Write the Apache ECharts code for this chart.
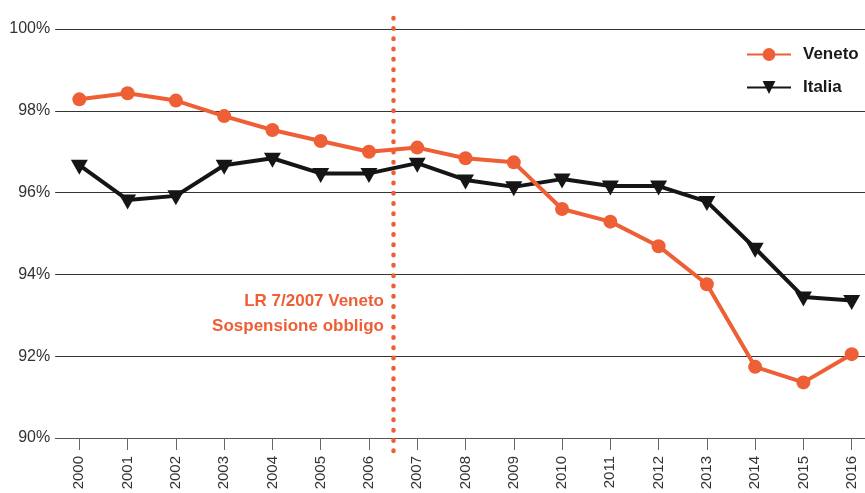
<!DOCTYPE html>
<html>
<head>
<meta charset="utf-8">
<script src="https://cdn.jsdelivr.net/npm/echarts@6/dist/echarts.min.js"></script>
<style>html,body{margin:0;padding:0;background:#fff}#c{width:865px;height:493px}</style>
</head>
<body>
<div id="c"></div>
<script>
const years = ['2000','2001','2002','2003','2004','2005','2006','2007','2008','2009','2010','2011','2012','2013','2014','2015','2016'];
const veneto = [98.28, 98.43, 98.25, 97.87, 97.53, 97.26, 97.0, 97.1, 96.84, 96.74, 95.6, 95.29, 94.69, 93.76, 91.74, 91.36, 92.05];
const italia = [96.67, 95.82, 95.92, 96.67, 96.84, 96.47, 96.47, 96.72, 96.31, 96.14, 96.33, 96.16, 96.16, 95.78, 94.64, 93.45, 93.36];
const yTicks = [90, 92, 94, 96, 98, 100];
const lawPosition = 6.5; // year index between 2006 and 2007
const annotation = ['LR 7/2007 Veneto', 'Sospensione obbligo'];

const ORANGE = '#EE5F35';
const BLACK = '#151515';
const FONT = 'Liberation Sans, Arial, sans-serif';

const idx = years.map((_, i) => i);
const X_MIN = -0.5, X_MAX = 16.276; // right part of the last band is cut by the image edge

const chart = echarts.init(document.getElementById('c'), null, {renderer: 'canvas'});
chart.setOption({
  animation: false,
  backgroundColor: '#fff',
  grid: [
    {left: 55.2, right: 0, top: 29, bottom: 55},
    {left: 55.2, right: 0, top: 12, bottom: 42}
  ],
  legend: {
    data: ['Veneto', 'Italia'],
    orient: 'vertical',
    left: 746,
    top: 46,
    padding: 0,
    itemWidth: 44,
    itemHeight: 16,
    itemGap: 16,
    textStyle: {fontFamily: FONT, fontSize: 17, fontWeight: 'bold', color: '#1a1a1a', padding: [0, 0, 0, 7]}
  },
  xAxis: [
    {
      type: 'value', min: X_MIN, max: X_MAX, gridIndex: 0,
      axisLine: {show: true, lineStyle: {color: '#555', width: 1}},
      axisTick: {show: true, customValues: idx, length: 12, lineStyle: {color: '#666', width: 1}},
      axisLabel: {customValues: idx, formatter: (v) => years[Math.round(v)], rotate: 90, margin: 18, fontFamily: FONT, fontSize: 15, color: '#333'},
      splitLine: {show: false}
    },
    {type: 'value', min: X_MIN, max: X_MAX, gridIndex: 1, show: false}
  ],
  yAxis: [
    {
      type: 'value', min: yTicks[0], max: yTicks[yTicks.length - 1], interval: 2, gridIndex: 0,
      axisLine: {show: false}, axisTick: {show: false},
      axisLabel: {formatter: '{value}%', margin: 5, fontFamily: FONT, fontSize: 16, color: '#333', padding: [0, 0, 8, 0]},
      splitLine: {show: true, lineStyle: {color: '#333', width: 1}}
    },
    {type: 'value', min: 0, max: 1, gridIndex: 1, show: false}
  ],
  series: [
    {
      name: 'Veneto', type: 'line', data: veneto.map((v, i) => [i, v]), xAxisIndex: 0, yAxisIndex: 0,
      symbol: 'circle', symbolSize: 14,
      lineStyle: {color: ORANGE, width: 4},
      itemStyle: {color: ORANGE},
      z: 3
    },
    {
      name: 'Italia', type: 'line', data: italia.map((v, i) => [i, v]), xAxisIndex: 0, yAxisIndex: 0,
      symbol: 'triangle', symbolRotate: 180, symbolSize: [17, 15], symbolOffset: [0, 2],
      lineStyle: {color: BLACK, width: 4},
      itemStyle: {color: BLACK},
      z: 2
    },
    {
      name: 'law', type: 'line', data: [], xAxisIndex: 1, yAxisIndex: 1,
      markLine: {
        silent: true, symbol: ['none', 'none'], label: {show: false},
        lineStyle: {color: ORANGE, width: 4.5, type: [0.5, 9.8], cap: 'round'},
        data: [{xAxis: lawPosition}]
      },
      z: 4
    }
  ],
  graphic: [
    {
      type: 'text', z: 10,
      x: 384, y: 289,
      style: {
        text: annotation.join('\n'), fill: ORANGE,
        font: 'bold 17px ' + FONT, align: 'right', verticalAlign: 'top', lineHeight: 25
      }
    }
  ]
});
</script>
</body>
</html>
